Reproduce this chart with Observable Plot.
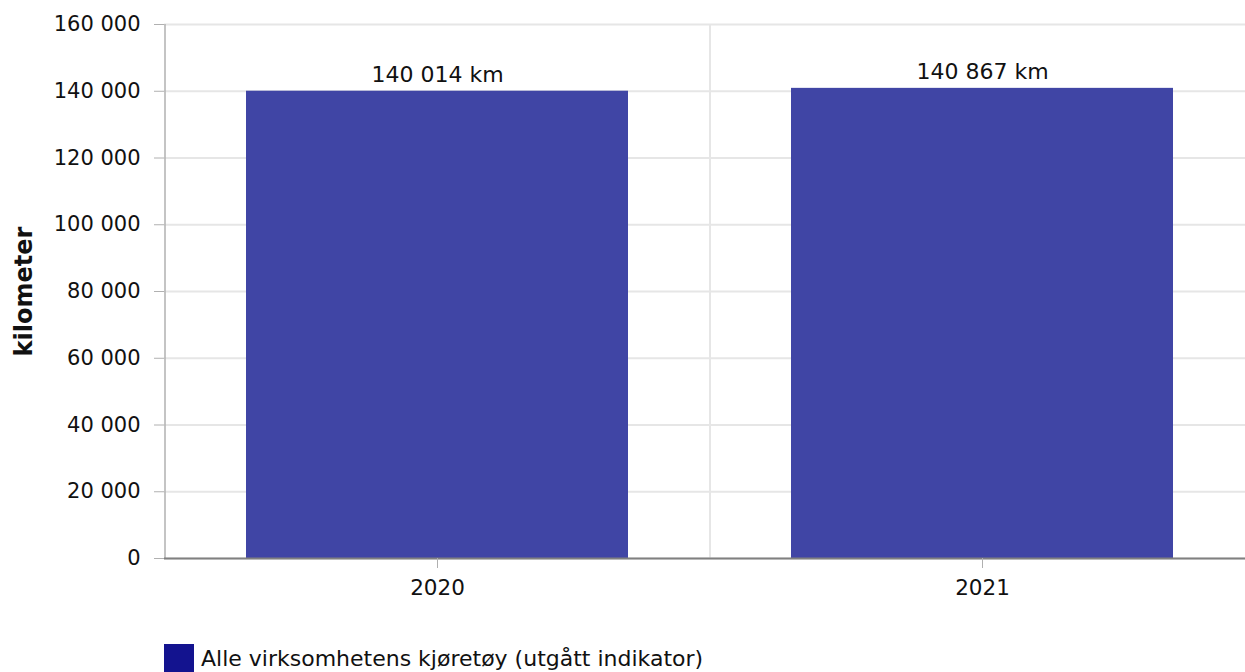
<!DOCTYPE html>
<html>
<head>
<meta charset="utf-8">
<script src="https://cdn.jsdelivr.net/npm/d3@7"></script>
<script src="https://cdn.jsdelivr.net/npm/@observablehq/plot@0.6"></script>
<style>
  body { margin: 0; background: #fff; font-family: "DejaVu Sans", Verdana, sans-serif; }
  #legend { display: flex; align-items: center; margin-left: 164px; margin-top: 14px; font-size: 22px; color: #111; }
  #legend .sw { width: 30px; height: 28px; background: #13138f; margin-right: 7px; }
</style>
</head>
<body>
<div id="chart"></div>
<div id="legend"><div class="sw"></div><span id="legtext"></span></div>
<script>
const years = ["2020", "2021"];
const values = [140014, 140867];
const unit = "km";
const yTicks = [0, 20000, 40000, 60000, 80000, 100000, 120000, 140000, 160000];
const yLabel = "kilometer";
const seriesName = "Alle virksomhetens kjøretøy (utgått indikator)";

const data = years.map((y, i) => ({year: y, value: values[i]}));
const fmt = v => d3.format(",")(v).replace(/,/g, " ");

const W = 1245, H = 630, ML = 164, MT = 24, MB = 72;
const xRange = [ML, 1254];
const step = (xRange[1] - xRange[0]) / years.length;

const chart = Plot.plot({
  width: W,
  height: H,
  marginLeft: ML,
  marginRight: 0,
  marginTop: MT,
  marginBottom: MB,
  style: {fontFamily: "DejaVu Sans, Verdana, sans-serif", fontSize: "21px", color: "#111", background: "#fff"},
  x: {domain: years, range: xRange, paddingInner: 0.3, paddingOuter: 0.15, label: null},
  y: {domain: [0, 160000], label: null},
  marks: [
    Plot.gridY(yTicks, {stroke: "#e6e6e6", strokeOpacity: 1, strokeWidth: 2}),
    Plot.ruleX([years[0]], {dx: step / 2, y1: 0, y2: 160000, stroke: "#e6e6e6", strokeOpacity: 1, strokeWidth: 2}),
    Plot.ruleX([years[0]], {dx: -step / 2, y1: 0, y2: 160000, stroke: "#b0b0b0", strokeWidth: 1.5}),
    Plot.barY(data, {x: "year", y: "value", fill: "#4045a5"}),
    Plot.ruleY([0], {stroke: "#808080", strokeWidth: 2}),
    Plot.text(data, {x: "year", y: "value", text: d => fmt(d.value) + " " + unit, lineAnchor: "bottom", dy: -9, fontSize: 22, fill: "#111"}),
    Plot.axisY(yTicks, {tickSize: 10, tickPadding: 14, tickFormat: fmt, stroke: "#b0b0b0", fontSize: 21, fill: "#111", label: null}),
    Plot.axisX({tickSize: 10, tickPadding: 11, stroke: "#b0b0b0", fontSize: 21.5, fill: "#111", label: null}),
    Plot.text([yLabel], {frameAnchor: "left", textAnchor: "middle", rotate: -90, dx: -140, fontWeight: "bold", fontSize: 24, fill: "#111"})
  ]
});
document.getElementById("chart").appendChild(chart);
document.getElementById("legtext").textContent = seriesName;
</script>
</body>
</html>
